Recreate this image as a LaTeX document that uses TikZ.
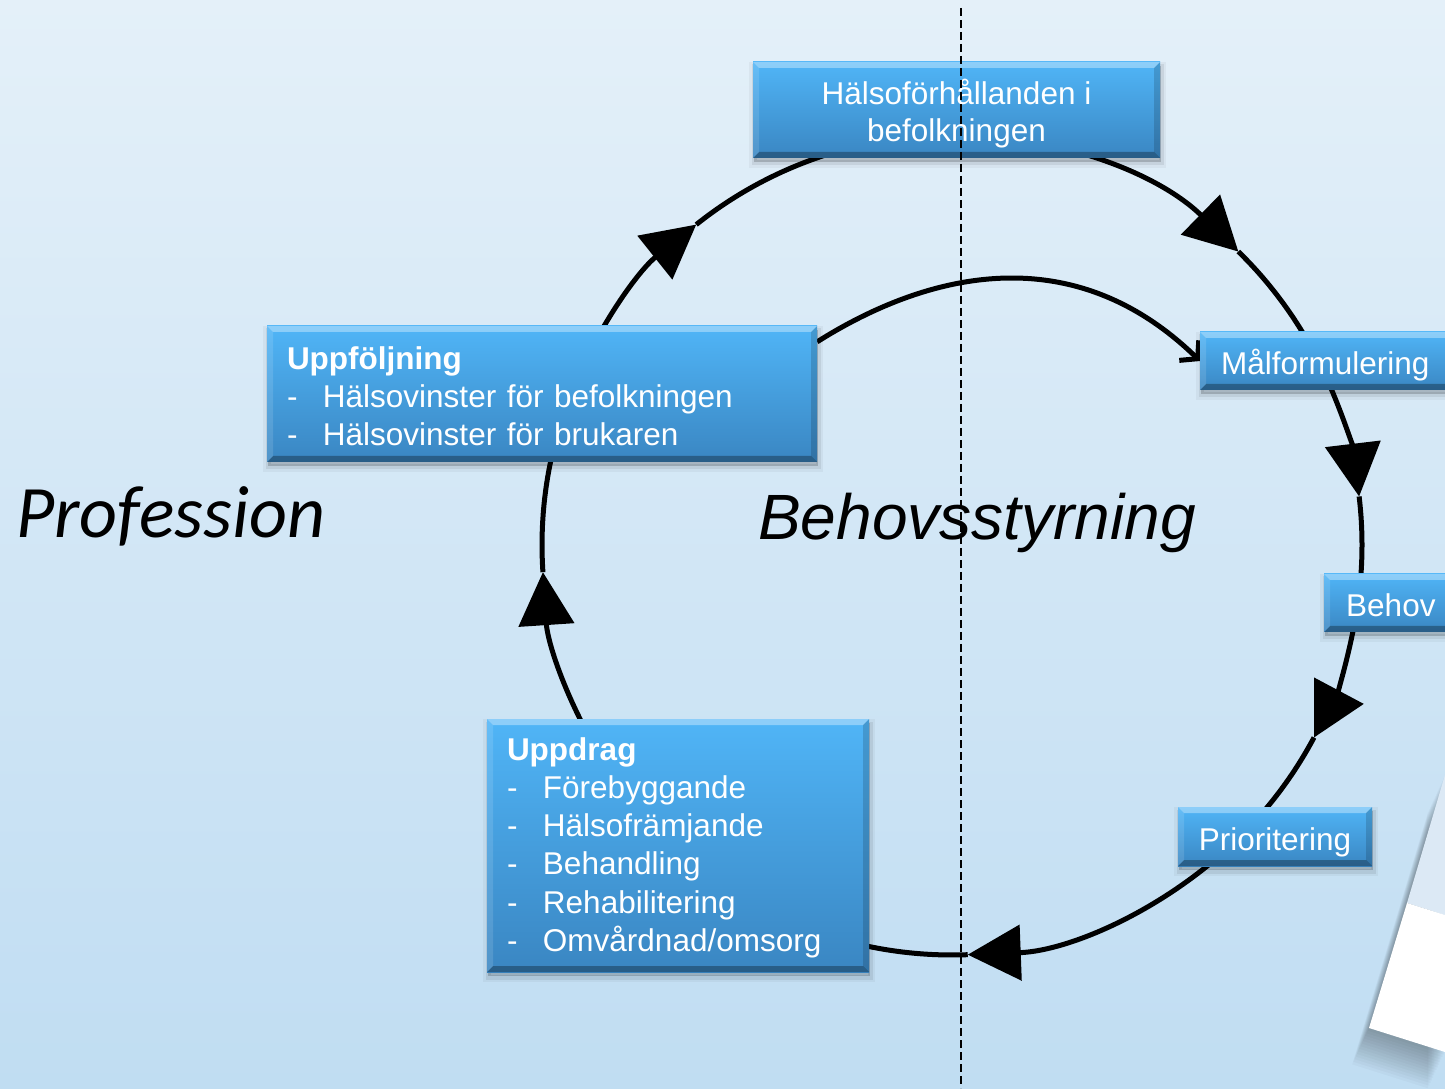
\documentclass[tikz,border=0pt]{standalone}
\usepackage{fontspec}
\setmainfont{Liberation Sans}
\newfontfamily\calibrifont{Carlito}
\usetikzlibrary{arrows.meta,calc}
\pgfdeclarelayer{bg}
\pgfsetlayers{bg,main}

\definecolor{bgtop}{HTML}{E4F0F9}
\definecolor{bgmid}{HTML}{C6E0F3}
\definecolor{bgbot}{HTML}{C0DDF2}
\definecolor{boxtop}{HTML}{50B5F7}
\definecolor{boxbot}{HTML}{3A86C2}
\definecolor{pageband}{HTML}{DCE9F5}

\newcommand{\listdash}{\makebox[36pt][l]{-}}

\tikzset{
  softshadow/.style={
    preaction={draw=black, line width=10pt, opacity=0.04, transform canvas={xshift=1pt, yshift=-5pt}},
    preaction={draw=black, line width=5pt, opacity=0.07, transform canvas={xshift=1pt, yshift=-5pt}},
    preaction={fill=black, opacity=0.18, transform canvas={xshift=1pt, yshift=-4pt}}},
  bevelbox/.style={draw=none, top color=boxtop, bottom color=boxbot, text=white,
    font=\fontsize{31.5}{38}\selectfont, softshadow,
    path picture={
      \path (path picture bounding box.north west) coordinate (bNW)
            (path picture bounding box.north east) coordinate (bNE)
            (path picture bounding box.south west) coordinate (bSW)
            (path picture bounding box.south east) coordinate (bSE);
      \fill[white, opacity=0.35] (bNW) -- (bNE) -- ($(bNE)+(-6,-6)$) -- ($(bNW)+(6,-6)$) -- cycle;
      \fill[black, opacity=0.3] (bSW) -- (bSE) -- ($(bSE)+(-6,6)$) -- ($(bSW)+(6,6)$) -- cycle;
      \fill[white, opacity=0.12] (bNW) -- ($(bNW)+(6,-6)$) -- ($(bSW)+(6,6)$) -- (bSW) -- cycle;
      \fill[black, opacity=0.15] (bNE) -- ($(bNE)+(-6,-6)$) -- ($(bSE)+(-6,6)$) -- (bSE) -- cycle;
    }},
  oneline/.style={text height=27pt, text depth=0pt},
  ring/.style={line width=5pt, black},
  bigtip/.style={-{Triangle[length=53pt,width=55pt]}},
  divider/.style={line width=2pt, black, dash pattern=on 8pt off 4pt},
  bigword/.style={anchor=base west, inner sep=0pt, text=black},
}

\begin{document}
\begin{tikzpicture}[x=1pt, y=1pt]
\useasboundingbox (0,0) rectangle (1445,1088);
\clip (0,0) rectangle (1445,1088);

% boxes
\node[bevelbox, minimum width=407pt, minimum height=96pt, align=center, inner sep=0pt,
      font=\fontsize{31.5}{37}\selectfont, text height=64pt, text depth=0pt] (ht) at (956.5,978)
  {Hälsoförhållanden i\\befolkningen};
\node[bevelbox, oneline, anchor=west, minimum height=58pt, text width=229pt, align=left, inner xsep=21pt, inner ysep=0pt] (mal) at (1200,727) {Målformulering};
\node[bevelbox, oneline, anchor=west, minimum height=58pt, text width=120pt, align=left, inner xsep=22pt, inner ysep=0pt] (behov) at (1324,485) {Behov};
\node[bevelbox, oneline, minimum width=194pt, minimum height=59pt, inner sep=0pt] (prio) at (1275,251.5) {Prioritering};
\node[bevelbox, minimum height=136pt, text width=510pt, align=left, inner xsep=20pt, inner ysep=0pt,
      text height=20pt, text depth=68pt] (uppf) at (542,694)
  {\textbf{Uppföljning}\\\listdash Hälsovinster för befolkningen\\\listdash Hälsovinster för brukaren};
\node[bevelbox, minimum height=253pt, text width=342pt, align=left, inner xsep=20pt, inner ysep=0pt,
      font=\fontsize{31.5}{38.3}\selectfont, text height=20pt, text depth=191pt] (uppd) at (678,242.5)
  {\textbf{Uppdrag}\\\listdash Förebyggande\\\listdash Hälsofrämjande\\\listdash Behandling\\\listdash Rehabilitering\\\listdash Omvårdnad/omsorg};

% big words
\node[bigword, font=\calibrifont\itshape\fontsize{74}{82}\selectfont] (prof) at (16,550) {Profession};
\node[bigword, font=\itshape\fontsize{64}{70}\selectfont] (behs) at (758,548) {Behovsstyrning};

% dashed divider
\coordinate (dtop) at (961,1080);
\coordinate (dbot) at (961,0);
\draw[divider] (dtop) -- (dbot);

\begin{pgfonlayer}{bg}
  \shade[top color=bgtop, middle color=bgmid, bottom color=bgbot] (0,0) rectangle (1445,1088);
  % page in the corner
  \foreach \s in {1,...,14}
    \fill[black, opacity=0.025] ($(1445,313)+(-1.2*\s,-2.6*\s)$) -- ($(1369,60)+(-1.2*\s,-2.6*\s)$) -- ($(1445,36)+(-1.2*\s,-2.6*\s)$) -- cycle;
  \fill[pageband] (1445,313) -- (1407,185) -- (1445,173) -- cycle;
  \fill[white] (1407,185) -- (1445,173) -- (1445,36) -- (1369,60) -- cycle;

  % cycle ring
  \coordinate (C) at (952,543);
  \foreach \n/\a in {s1/95, t1/45.7, e1/26, t2/6.8, e2/-8, t3/-28, e3/-45, t4/-87.8, e4/-105, s5/215, t5/183.8, e5/160, t6/128.6}
    \coordinate (\n) at ($(C)+(\a:410)$);
  \draw[ring, bigtip] (s1) arc[start angle=95, end angle=45.7, radius=410];
  \draw[ring] (t1) arc[start angle=45.7, end angle=26, radius=410];
  \draw[ring, bigtip] (e1) arc[start angle=26, end angle=6.8, radius=410];
  \draw[ring] (t2) arc[start angle=6.8, end angle=-8, radius=410];
  \draw[ring, bigtip] (e2) arc[start angle=-8, end angle=-28, radius=410];
  \draw[ring] (t3) arc[start angle=-28, end angle=-45, radius=410];
  \draw[ring, bigtip] (e3) arc[start angle=-45, end angle=-87.8, radius=410];
  \draw[ring] (t4) arc[start angle=-87.8, end angle=-105, radius=410];
  \draw[ring, bigtip] (s5) arc[start angle=215, end angle=183.8, radius=410];
  \draw[ring] (t5) arc[start angle=183.8, end angle=160, radius=410];
  \draw[ring, bigtip] (e5) arc[start angle=160, end angle=128.6, radius=410];
  \draw[ring] (t6) arc[start angle=128.6, end angle=95, radius=410];

  % inner arc
  \coordinate (ia) at ([yshift=-16pt]uppf.north east);
  \draw[ring, -{Straight Barb[length=12pt,width=28pt]}] (ia) .. controls (915,808) and (1065,858) .. (mal.west);
\end{pgfonlayer}
\end{tikzpicture}
\end{document}
